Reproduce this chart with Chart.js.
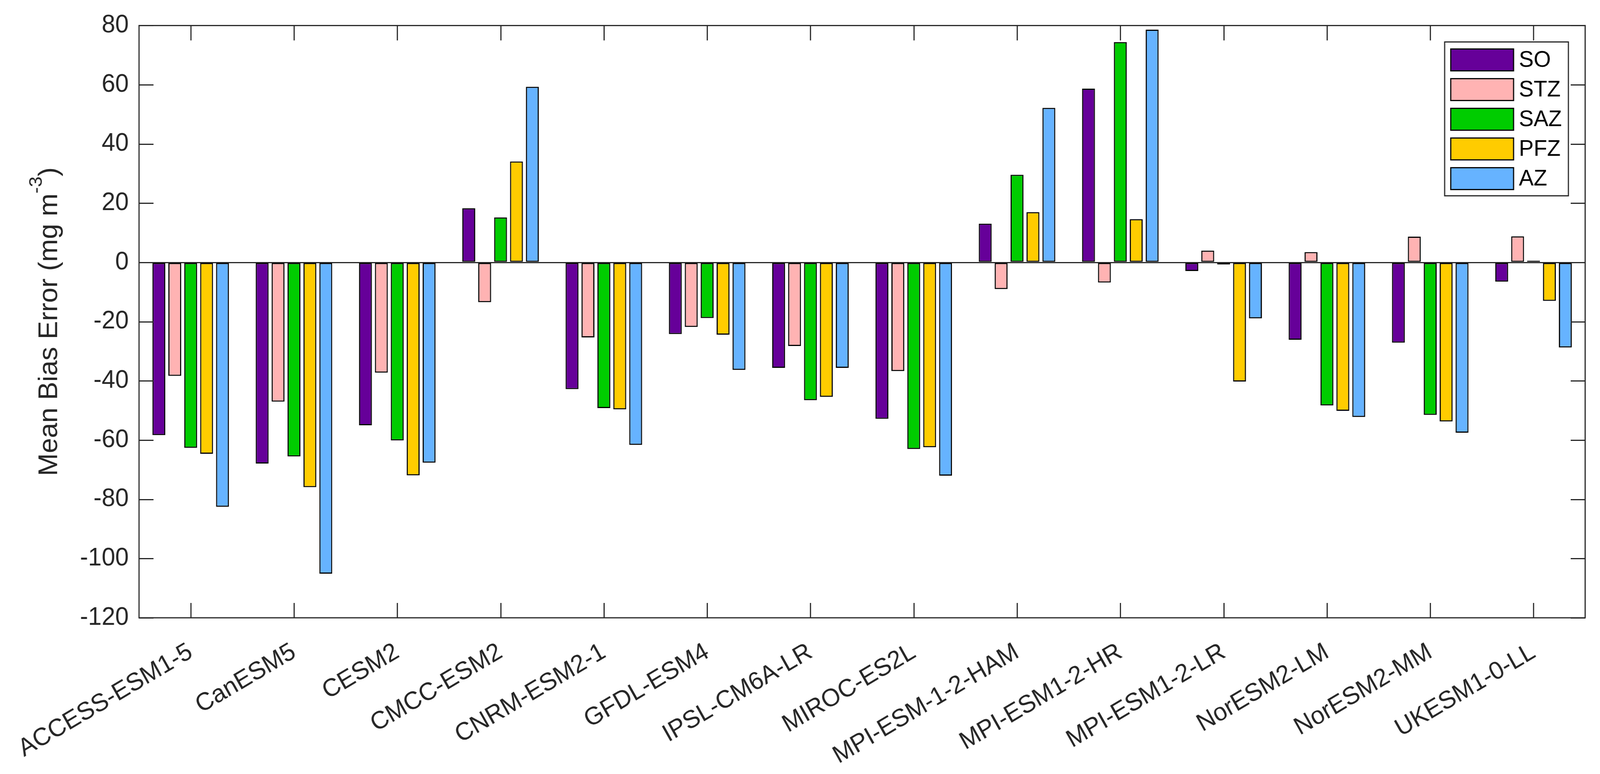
<!DOCTYPE html>
<html>
<head>
<meta charset="utf-8">
<script src="https://cdn.jsdelivr.net/npm/chart.js@4.4.1/dist/chart.umd.min.js"></script>
<style>
html,body{margin:0;padding:0;background:#fff;overflow:hidden;}
#wrap{position:absolute;left:0;top:0;width:4202px;height:1982px;transform-origin:0 0;}
canvas{display:block;}
</style>
</head>
<body>
<div id="wrap"><canvas id="c" width="4202" height="1982" style="width:4202px;height:1982px"></canvas></div>
<script>
// ---------- DATA ----------
const categories = ['ACCESS-ESM1-5','CanESM5','CESM2','CMCC-ESM2','CNRM-ESM2-1','GFDL-ESM4','IPSL-CM6A-LR','MIROC-ES2L','MPI-ESM-1-2-HAM','MPI-ESM1-2-HR','MPI-ESM1-2-LR','NorESM2-LM','NorESM2-MM','UKESM1-0-LL'];
const seriesNames = ['SO','STZ','SAZ','PFZ','AZ'];
const SO  = [-58.3, -67.9, -55.0, 18.3, -42.8, -24.2, -35.6, -52.8, 13.1, 58.7, -2.9, -26.1, -27.1, -6.5];
const STZ = [-38.3, -47.0, -37.2, -13.4, -25.3, -21.8, -28.2, -36.7, -9.0, -6.8, 4.0, 3.5, 8.7, 8.8];
const SAZ = [-62.6, -65.5, -60.1, 15.2, -49.2, -18.8, -46.5, -63.0, 29.6, 74.4, -0.7, -48.3, -51.5, 0.6];
const PFZ = [-64.6, -75.9, -71.9, 34.1, -49.6, -24.4, -45.4, -62.4, 17.0, 14.6, -40.2, -50.1, -53.7, -13.0];
const AZ  = [-82.5, -105.1, -67.6, 59.3, -61.6, -36.3, -35.6, -72.0, 52.2, 78.6, -18.9, -52.2, -57.5, -28.7];
const yMin = -120, yMax = 80, yStep = 20;
const yTitleMain = 'Mean Bias Error (mg m';
const yTitleSup = '-3';
const yTitleEnd = ')';

// ---------- STYLE ----------
const seriesColors = ['#660099','#FFB3B3','#00CC00','#FFCC00','#66B3FF'];
const FONT = '"Liberation Sans", Arial, Helvetica, sans-serif';
const AXIS_COLOR = '#262626';

// fit the fixed-size 4202x1982 drawing to the actual viewport
function fitWrap() {
  const w = window.innerWidth || 4202, h = window.innerHeight || 1982;
  document.getElementById('wrap').style.transform = 'scale(' + (w / 4202) + ',' + (h / 1982) + ')';
}
fitWrap();
window.addEventListener('resize', fitWrap);

const seriesData = [SO, STZ, SAZ, PFZ, AZ];
const datasets = seriesNames.map((name, i) => ({
  label: name,
  data: seriesData[i],
  backgroundColor: seriesColors[i],
  borderColor: '#000000',
  borderWidth: 3,
  borderSkipped: false,
  categoryPercentage: 0.77,
  barPercentage: 0.81
}));

const framePlugin = {
  id: 'frame',
  afterDatasetsDraw(chart) {
    const {ctx, chartArea: a, scales} = chart;
    const xs = scales.x, ys = scales.y;
    const TL = 38;
    ctx.save();
    ctx.strokeStyle = AXIS_COLOR;
    ctx.lineWidth = 3;
    ctx.beginPath();
    xs.ticks.forEach((t, i) => {
      const x = Math.round(xs.getPixelForTick(i)) + 0.5;
      ctx.moveTo(x, a.top); ctx.lineTo(x, a.top + TL);
      ctx.moveTo(x, a.bottom); ctx.lineTo(x, a.bottom - TL);
    });
    ys.ticks.forEach(t => {
      const y = Math.round(ys.getPixelForValue(t.value)) + 0.5;
      ctx.moveTo(a.left, y); ctx.lineTo(a.left + TL, y);
      ctx.moveTo(a.right, y); ctx.lineTo(a.right - TL, y);
    });
    ctx.stroke();
    ctx.strokeRect(a.left, a.top, a.right - a.left, a.bottom - a.top);

    // legend (inside plot, top right)
    const bw = 325, bh = 394;
    const bx = a.right - 44 - bw, by = a.top + 42;
    ctx.fillStyle = '#ffffff';
    ctx.fillRect(bx, by, bw, bh);
    ctx.strokeStyle = AXIS_COLOR;
    ctx.lineWidth = 3;
    ctx.strokeRect(bx, by, bw, bh);
    ctx.font = '58px ' + FONT;
    ctx.textBaseline = 'middle';
    ctx.textAlign = 'left';
    chart.data.datasets.forEach((ds, i) => {
      const sy = by + 18 + i * 76;
      ctx.fillStyle = ds.backgroundColor;
      ctx.fillRect(bx + 16, sy, 165, 56);
      ctx.strokeStyle = '#000';
      ctx.lineWidth = 3;
      ctx.strokeRect(bx + 16, sy, 165, 56);
      ctx.fillStyle = '#000';
      ctx.fillText(ds.label, bx + 195, sy + 30);
    });

    // y-axis title with superscript
    const cy = (a.top + a.bottom) / 2;
    const mainFont = '70px ' + FONT, supFont = '49px ' + FONT;
    ctx.font = mainFont;
    const w1 = ctx.measureText(yTitleMain).width;
    const w3 = ctx.measureText(yTitleEnd).width;
    ctx.font = supFont;
    const w2 = ctx.measureText(yTitleSup).width;
    const W = w1 + w2 + w3;
    ctx.translate(150, cy);
    ctx.rotate(-Math.PI / 2);
    ctx.fillStyle = AXIS_COLOR;
    ctx.textBaseline = 'alphabetic';
    ctx.font = mainFont;
    ctx.fillText(yTitleMain, -W / 2, 0);
    ctx.font = supFont;
    ctx.fillText(yTitleSup, -W / 2 + w1, -40);
    ctx.font = mainFont;
    ctx.fillText(yTitleEnd, -W / 2 + w1 + w2, 0);
    ctx.restore();
  }
};

new Chart(document.getElementById('c'), {
  type: 'bar',
  data: { labels: categories, datasets },
  options: {
    responsive: false,
    animation: false,
    devicePixelRatio: 1,
    layout: { padding: { top: 58, right: 39, left: 0, bottom: 0 } },
    plugins: { legend: { display: false }, tooltip: { enabled: false }, title: { display: false } },
    scales: {
      x: {
        offset: true,
        grid: { display: false },
        border: { display: false },
        ticks: {
          autoSkip: false, maxRotation: 30, minRotation: 30,
          color: AXIS_COLOR, padding: 42,
          font: { family: FONT, size: 64 }
        },
        afterFit: s => { s.height = 400; }
      },
      y: {
        min: yMin, max: yMax,
        border: { display: false },
        grid: {
          drawTicks: false,
          lineWidth: 3,
          color: c => (c.tick && c.tick.value === 0) ? AXIS_COLOR : 'rgba(0,0,0,0)'
        },
        ticks: {
          stepSize: yStep, color: AXIS_COLOR, padding: 27,
          font: { family: FONT, size: 64 }
        },
        afterFit: s => { s.width = 340; }
      }
    }
  },
  plugins: [framePlugin]
});
</script>
</body>
</html>
